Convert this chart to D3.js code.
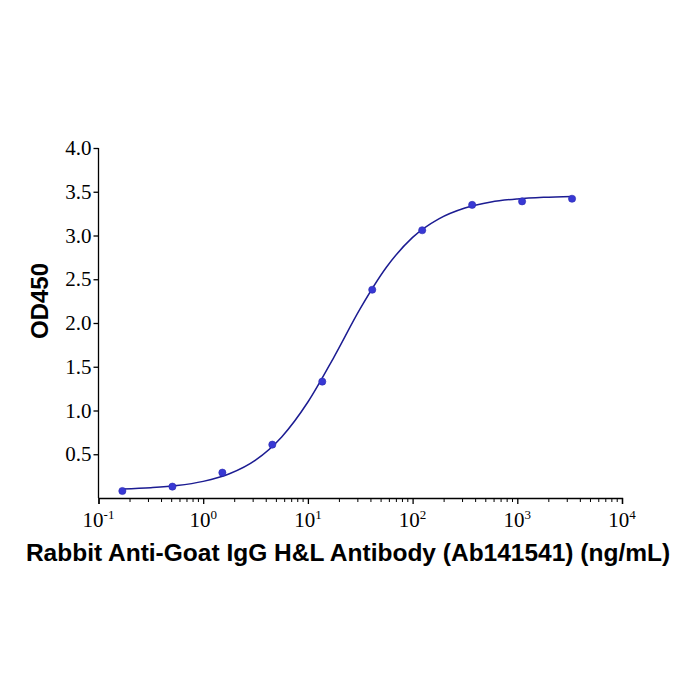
<!DOCTYPE html>
<html>
<head>
<meta charset="utf-8">
<script src="https://cdn.jsdelivr.net/npm/d3@7"></script>
<style>
  body { margin: 0; background: #fff; }
  svg { display: block; }
</style>
</head>
<body>
<div id="chart"></div>
<script>
// measured points (ng/mL vs OD450)
const conc = [0.169, 0.508, 1.524, 4.572, 13.72, 41.15, 123.5, 370.4, 1111, 3333];
const od = [0.08, 0.13, 0.29, 0.61, 1.33, 2.38, 3.06, 3.35, 3.39, 3.42];

// fitted curve
const curveConc = [0.17, 0.316, 0.562, 1, 1.78, 3.16, 5.62, 10, 17.8, 31.6, 56.2, 100, 178, 316, 562, 1000, 1778, 3333];
const curveOd = [0.104, 0.118, 0.142, 0.19, 0.277, 0.433, 0.698, 1.097, 1.614, 2.164, 2.637, 2.979, 3.191, 3.315, 3.383, 3.418, 3.437, 3.447];

const yTicks = [0.5, 1.0, 1.5, 2.0, 2.5, 3.0, 3.5, 4.0];
const xExponents = [-1, 0, 1, 2, 3, 4];

const xTitle = "Rabbit Anti-Goat IgG H&L Antibody (Ab141541) (ng/mL)";
const yTitle = "OD450";

const width = 700, height = 700;
const svg = d3.select("#chart").append("svg")
    .attr("width", width)
    .attr("height", height);

const x = d3.scaleLog().domain([0.1, 10000]).range([98.5, 622]);
const y = d3.scaleLinear().domain([0, 4]).range([498, 148]);

const serif = "'Liberation Serif', 'Times New Roman', 'DejaVu Serif', serif";
const sans = "'Liberation Sans', Arial, sans-serif";

// y axis
const yAxis = svg.append("g")
    .attr("transform", `translate(${x(0.1)},0)`)
    .call(d3.axisLeft(y).tickValues(yTicks).tickFormat(d3.format(".1f")).tickSize(5).tickPadding(2));
yAxis.attr("font-family", serif).attr("font-size", 21);
yAxis.select(".domain").attr("d", `M0,${y(4)}V${y(0)}`);

// x axis: major + minor ticks
const minor = [];
for (let e = -1; e < 4; e++) {
    for (let m = 2; m <= 9; m++) minor.push(m * Math.pow(10, e));
}
const xAxis = svg.append("g")
    .attr("transform", `translate(0,${y(0)})`)
    .call(d3.axisBottom(x).tickValues(xExponents.map(e => Math.pow(10, e))).tickFormat("").tickSize(6));
xAxis.selectAll(".minor")
    .data(minor)
    .enter()
    .append("line")
    .attr("class", "minor")
    .attr("x1", d => x(d))
    .attr("x2", d => x(d))
    .attr("y1", 0)
    .attr("y2", 4)
    .attr("stroke", "#000");

svg.selectAll(".domain, .tick line").attr("stroke", "#000").attr("stroke-width", 1.3);
yAxis.selectAll("g.tick text")
    .style("font-family", serif)
    .style("font-size", "21px")
    .attr("fill", "#000");

// x tick labels with superscripts
const xl = svg.append("g");
xExponents.forEach(e => {
    const t = xl.append("text")
        .attr("x", x(Math.pow(10, e)))
        .attr("y", 527)
        .attr("text-anchor", "middle")
        .style("font-family", serif)
        .style("font-size", "21px")
        .attr("fill", "#000");
    t.append("tspan").text("10");
    t.append("tspan")
        .attr("dy", -8)
        .style("font-size", "13px")
        .text(String(e));
});

// titles
svg.append("text")
    .attr("x", 348)
    .attr("y", 561)
    .attr("text-anchor", "middle")
    .style("font-family", sans)
    .style("font-weight", "bold")
    .style("font-size", "24.5px")
    .text(xTitle);

svg.append("text")
    .attr("transform", "translate(48,301) rotate(-90)")
    .attr("text-anchor", "middle")
    .style("font-family", sans)
    .style("font-weight", "bold")
    .style("font-size", "24px")
    .text(yTitle);

// fitted curve
const line = d3.line()
    .x((d, i) => x(curveConc[i]))
    .y(d => y(d))
    .curve(d3.curveMonotoneX);
svg.append("path")
    .attr("d", line(curveOd))
    .attr("fill", "none")
    .attr("stroke", "#1c1c92")
    .attr("stroke-width", 1.5);

// data points
svg.selectAll(".pt")
    .data(od)
    .enter()
    .append("circle")
    .attr("class", "pt")
    .attr("cx", (d, i) => x(conc[i]))
    .attr("cy", d => y(d))
    .attr("r", 3.6)
    .attr("fill", "#3838d4")
    .attr("stroke", "#2a2ab0")
    .attr("stroke-width", 0.6);
</script>
</body>
</html>
